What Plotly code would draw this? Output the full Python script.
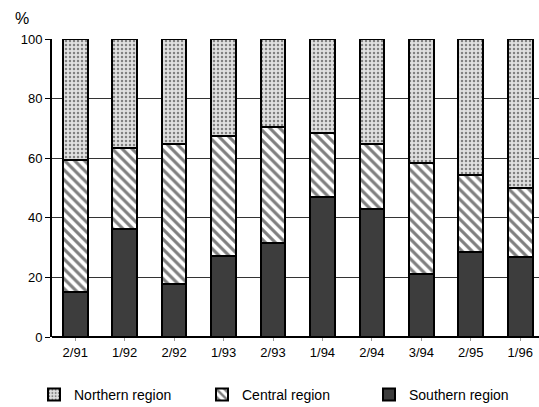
import plotly.graph_objects as go

categories = ["2/91", "1/92", "2/92", "1/93", "2/93", "1/94", "2/94", "3/94", "2/95", "1/96"]
southern = [15.0, 36.2, 17.7, 27.3, 31.4, 47.0, 42.9, 21.1, 28.4, 26.7]
central_top = [59.4, 63.3, 64.7, 67.6, 70.6, 68.4, 64.8, 58.5, 54.4, 49.9]
central = [round(c - s, 1) for c, s in zip(central_top, southern)]
northern = [round(100 - c, 1) for c in central_top]
y_ticks = [0, 20, 40, 60, 80, 100]

font = "Liberation Sans, Arial, sans-serif"
W, H = 539, 407

fig = go.Figure()
fig.add_trace(go.Bar(
    x=categories, y=southern, name="Southern region", legend="legend3",
    marker=dict(color="#3d3d3d", line=dict(color="black", width=2)),
))
fig.add_trace(go.Bar(
    x=categories, y=central, name="Central region", legend="legend2",
    marker=dict(color="white", line=dict(color="black", width=2),
                pattern=dict(shape="\\", fgcolor="black", bgcolor="white",
                             size=7, solidity=0.45)),
))
fig.add_trace(go.Bar(
    x=categories, y=northern, name="Northern region", legend="legend",
    marker=dict(color="#dcdcdc", line=dict(color="black", width=2),
                pattern=dict(shape=".", fgcolor="#222", bgcolor="#e0e0e0",
                             size=4, solidity=0.3)),
))


def leg(px):
    return dict(
        orientation="h", xref="container", yref="container",
        x=px / W, y=1 - 395 / H, xanchor="left", yanchor="middle",
        font=dict(size=14, family=font), bgcolor="rgba(0,0,0,0)",
    )


fig.update_layout(
    width=W, height=H,
    margin=dict(l=52, r=0, t=39, b=70, autoexpand=False),
    barmode="stack",
    bargap=0.5,
    plot_bgcolor="white",
    paper_bgcolor="white",
    font=dict(family=font, size=13, color="black"),
    showlegend=True,
    legend=leg(34),
    legend2=leg(202),
    legend3=leg(369),
    xaxis=dict(
        range=[-0.47, 9.38], showgrid=False, automargin=False,
        ticks="outside", ticklen=3, tickcolor="#999",
        tickfont=dict(size=13, family=font),
        showline=False,
    ),
    yaxis=dict(
        range=[0, 100], tickvals=y_ticks, automargin=False,
        showgrid=True, gridcolor="#333", gridwidth=1,
        ticks="outside", ticklen=5, tickcolor="black",
        tickfont=dict(size=13, family=font),
        showline=True, linecolor="black", linewidth=2,
        zeroline=True, zerolinecolor="black", zerolinewidth=2,
    ),
    annotations=[dict(
        text="%", xref="paper", yref="paper", x=-0.08, y=1.035,
        xanchor="left", yanchor="bottom", showarrow=False,
        font=dict(size=16, family=font),
    )],
)

fig.write_html("out.html", config={"displayModeBar": False},
               post_script="document.body.style.margin='0';")
